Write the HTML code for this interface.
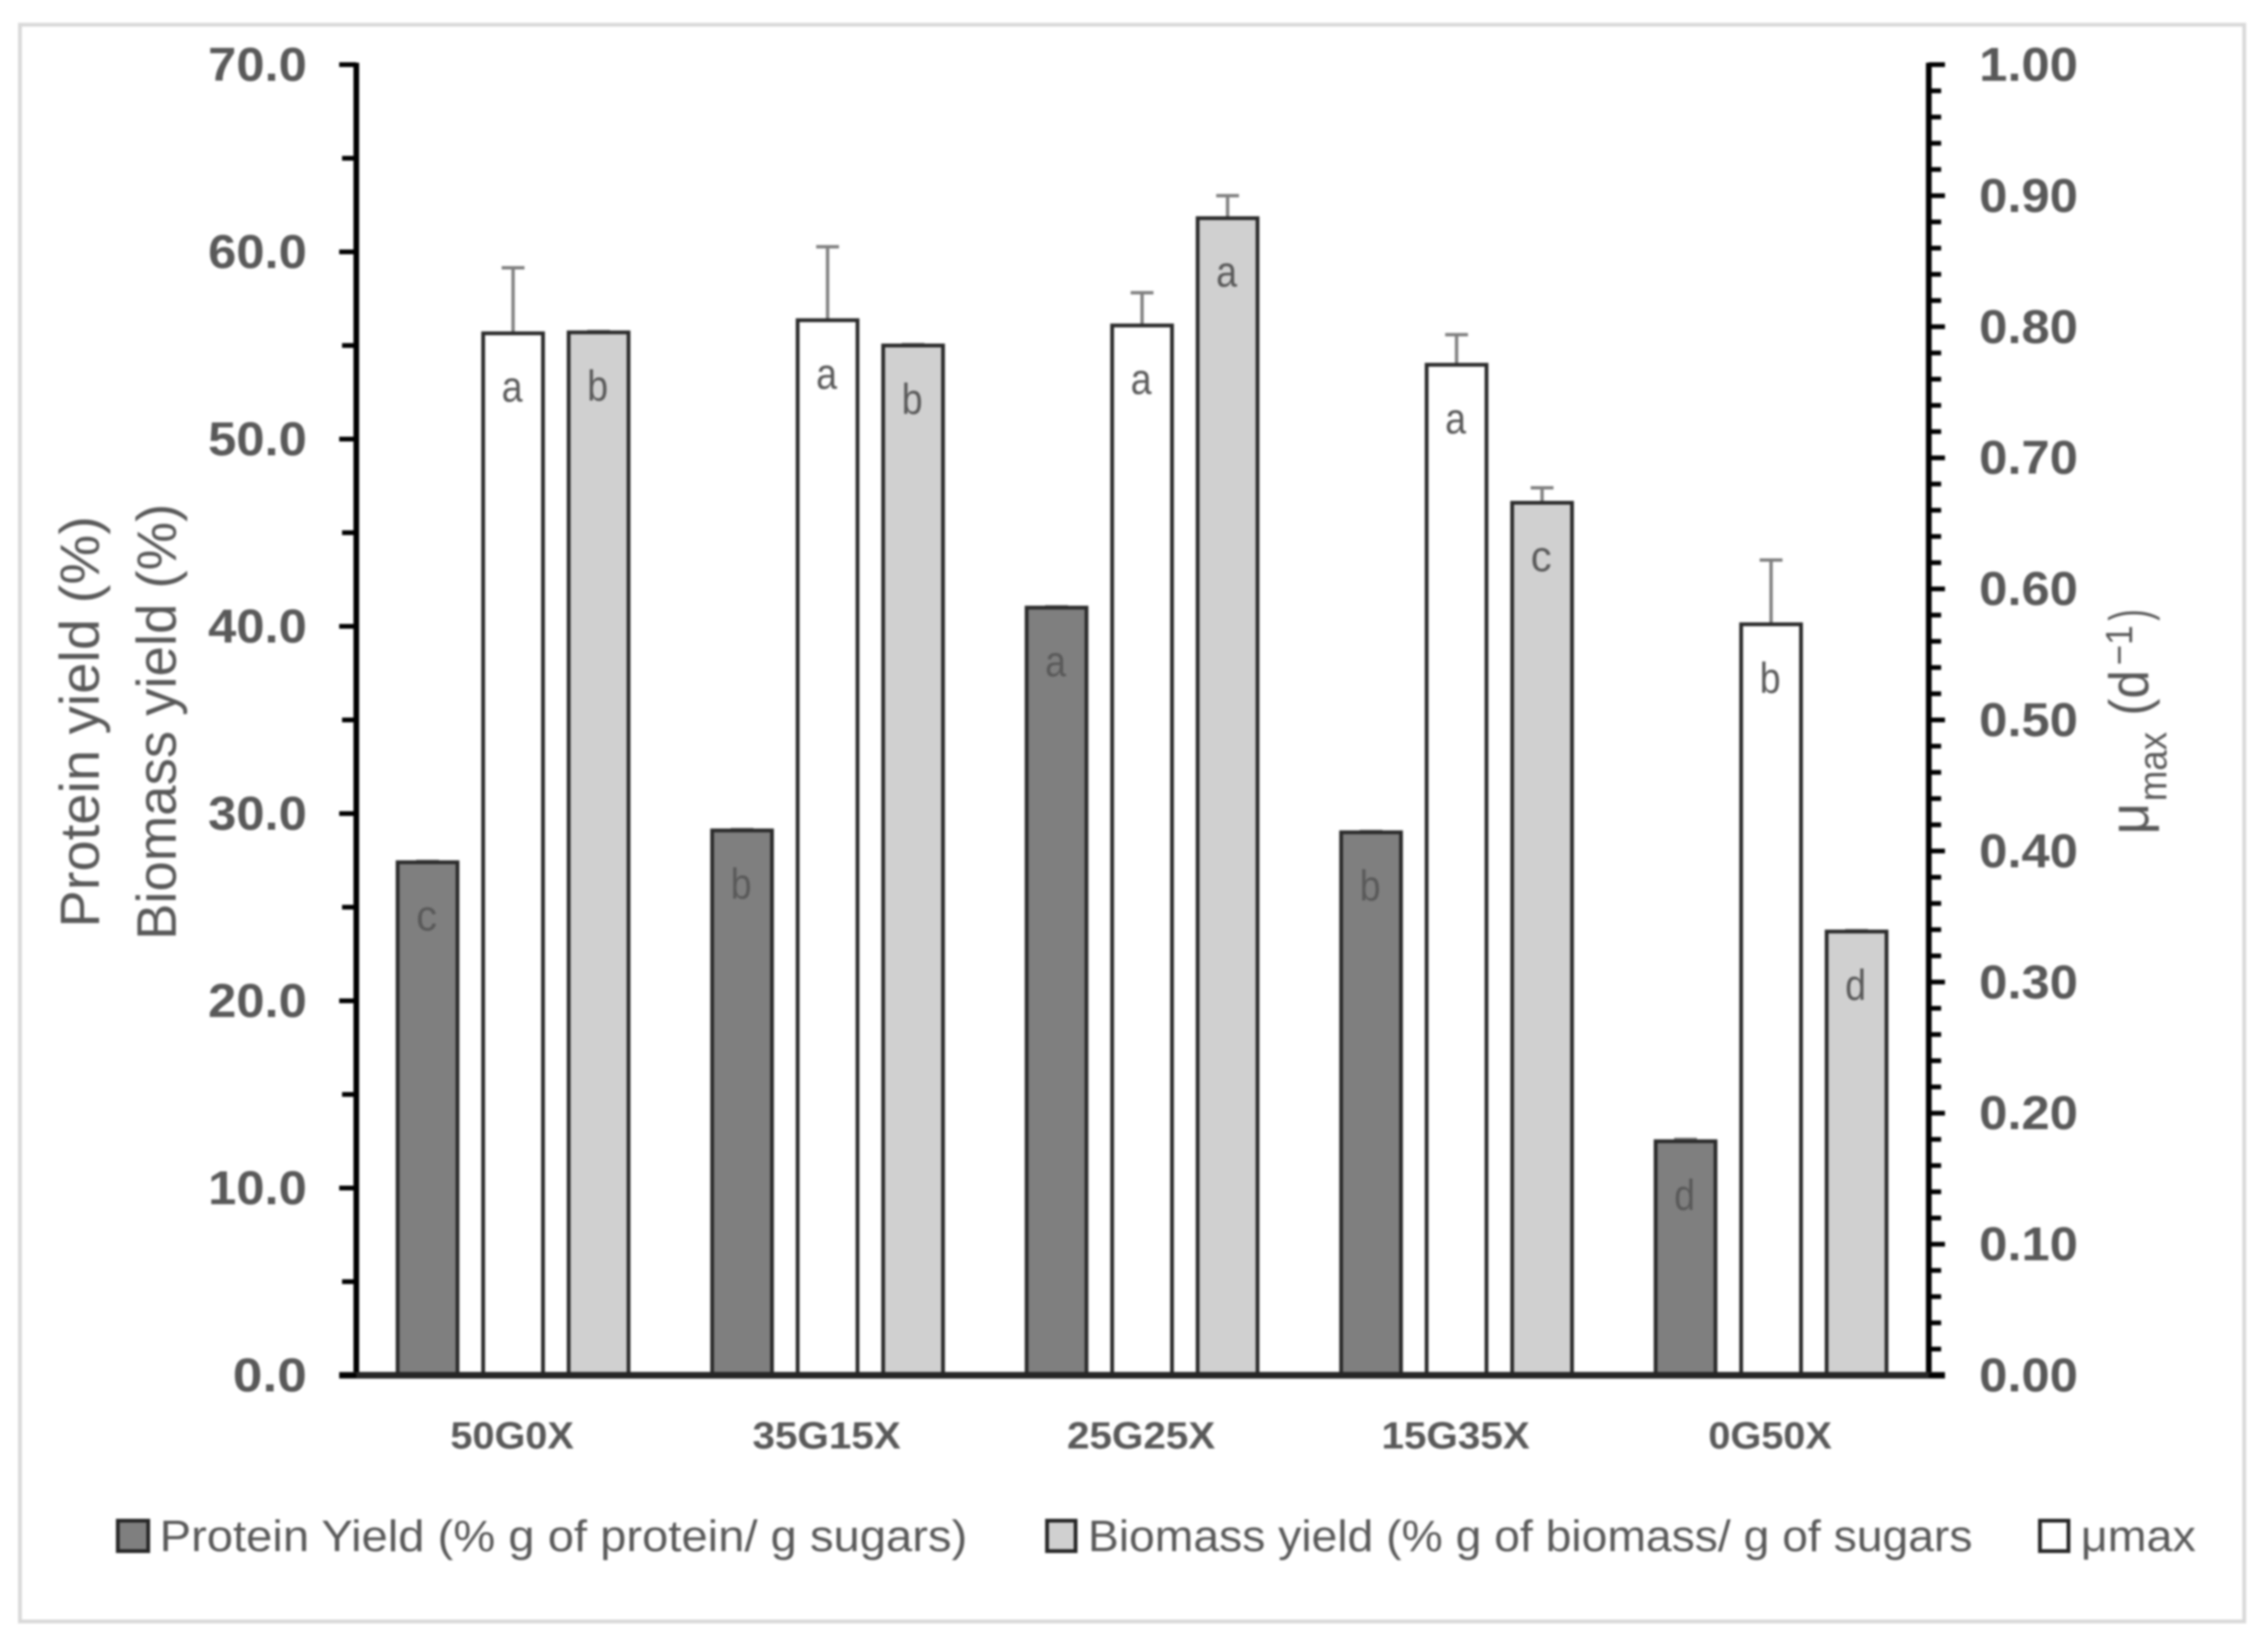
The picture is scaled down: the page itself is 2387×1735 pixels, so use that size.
<!DOCTYPE html>
<html lang="en">
<head>
<meta charset="utf-8">
<title>Protein yield, biomass yield and growth rate by sugar mix</title>
<style>
  html, body { margin: 0; padding: 0; background: #fff; }
  body { width: 2387px; height: 1735px; overflow: hidden; }
  svg { display: block; filter: blur(1px); }
  text { font-family: "Liberation Sans", "DejaVu Sans", sans-serif; fill: #595959; }
</style>
</head>
<body>
<svg id="chart" xmlns="http://www.w3.org/2000/svg" width="2387" height="1735" viewBox="0 0 2387 1735">
  <rect x="21" y="26" width="2341" height="1680" fill="#fff" stroke="#d9d9d9" stroke-width="4"/>

  <g id="bars"></g>
  <g id="axes"></g>

  <text transform="translate(104 976) rotate(-90)" font-size="58" textLength="433" lengthAdjust="spacingAndGlyphs">Protein yield (%)</text>
  <text transform="translate(185 989) rotate(-90)" font-size="58" textLength="459" lengthAdjust="spacingAndGlyphs">Biomass yield (%)</text>

  <text transform="translate(2261 878) rotate(-90)" font-size="58">μ</text>
  <text transform="translate(2280 843) rotate(-90)" font-size="42" textLength="73" lengthAdjust="spacingAndGlyphs">max</text>
  <text transform="translate(2261 753) rotate(-90)" font-size="58" textLength="48" lengthAdjust="spacingAndGlyphs">(d</text>
  <text transform="translate(2244 700) rotate(-90)" font-size="40" textLength="42" lengthAdjust="spacingAndGlyphs">−1</text>
  <text transform="translate(2261 653) rotate(-90)" font-size="58" textLength="12" lengthAdjust="spacingAndGlyphs">)</text>

  <g>
    <rect x="124" y="1600" width="32" height="32" fill="#7f7f7f" stroke="#262626" stroke-width="4"/>
    <text x="168" y="1632" font-size="46" textLength="850" lengthAdjust="spacingAndGlyphs">Protein Yield (% g of protein/ g sugars)</text>
    <rect x="1102" y="1600" width="30" height="32" fill="#d0d0d0" stroke="#262626" stroke-width="4"/>
    <text x="1145" y="1632" font-size="46" textLength="931" lengthAdjust="spacingAndGlyphs">Biomass yield (% g of biomass/ g of sugars</text>
    <rect x="2147" y="1600" width="30" height="32" fill="#fff" stroke="#262626" stroke-width="4"/>
    <text x="2190" y="1632" font-size="46" textLength="121" lengthAdjust="spacingAndGlyphs">μmax</text>
  </g>
</svg>

<script>
// ---- chart data ----
const categories = ['50G0X', '35G15X', '25G25X', '15G35X', '0G50X'];
const proteinYield = [27.4, 29.1, 41.0, 29.0, 12.5];
const proteinError = [0.05, 0.05, 0.05, 0.05, 0.1];
const proteinLetters = ['c', 'b', 'a', 'b', 'd'];
const muMax = [0.795, 0.805, 0.801, 0.771, 0.573];
const muError = [0.05, 0.056, 0.025, 0.023, 0.049];
const muLetters = ['a', 'a', 'a', 'a', 'b'];
const biomassYield = [55.7, 55.0, 61.8, 46.6, 23.7];
const biomassError = [0.05, 0.05, 1.2, 0.8, 0.05];
const biomassLetters = ['b', 'b', 'a', 'c', 'd'];
const leftTicks = ['0.0', '10.0', '20.0', '30.0', '40.0', '50.0', '60.0', '70.0'];
const rightTicks = ['0.00', '0.10', '0.20', '0.30', '0.40', '0.50', '0.60', '0.70', '0.80', '0.90', '1.00'];

// ---- layout and axis functions ----
const NS = 'http://www.w3.org/2000/svg';
const plotTop = 68, plotBottom = 1447, plotLeft = 375, plotRight = 2030;
const leftMax = 70, rightMax = 1;
const groupStart = 540, groupPitch = 331, barOffset = 90, barWidth = 63;
const yLeft = v => plotBottom - (v / leftMax) * (plotBottom - plotTop);
const yRight = v => plotBottom - (v / rightMax) * (plotBottom - plotTop);
const xGroup = i => groupStart + i * groupPitch;

const barsLayer = document.getElementById('bars');
const axesLayer = document.getElementById('axes');

function drawSeries(seriesName, values, errors, letters, scale, offset, fill) {
  values.forEach((v, i) => {
    const cx = xGroup(i) + offset;
    const top = scale(v);

    const errLine = document.createElementNS(NS, 'path');
    
    
    const errTop = scale(v + errors[i]);
    errLine.setAttribute('d', 'M' + cx + ' ' + top + 'V' + errTop + 'M' + (cx - 12) + ' ' + errTop + 'H' + (cx + 12));
    errLine.setAttribute('stroke', '#7f7f7f');
    errLine.setAttribute('stroke-width', '3.5');
    errLine.setAttribute('fill', 'none');
    barsLayer.appendChild(errLine);

    const bar = document.createElementNS(NS, 'rect');
    
    
    bar.setAttribute('x', cx - barWidth / 2);
    bar.setAttribute('y', top);
    bar.setAttribute('width', barWidth);
    bar.setAttribute('height', plotBottom - top);
    bar.setAttribute('fill', fill);
    bar.setAttribute('stroke', '#2b2b2b');
    bar.setAttribute('stroke-width', '4');
    barsLayer.appendChild(bar);

    const letter = document.createElementNS(NS, 'text');
    
    
    letter.setAttribute('x', cx - 1);
    letter.setAttribute('y', top + 72);
    letter.setAttribute('font-size', '45');
    letter.setAttribute('text-anchor', 'middle');
    letter.setAttribute('textLength', '22');
    letter.setAttribute('lengthAdjust', 'spacingAndGlyphs');
    letter.textContent = letters[i];
    barsLayer.appendChild(letter);
  });
}

drawSeries('protein', proteinYield, proteinError, proteinLetters, yLeft, -barOffset, '#7f7f7f');
drawSeries('mumax', muMax, muError, muLetters, yRight, 0, '#ffffff');
drawSeries('biomass', biomassYield, biomassError, biomassLetters, yLeft, barOffset, '#d0d0d0');

// axis lines
const leftAxis = document.createElementNS(NS, 'line');


leftAxis.setAttribute('x1', plotLeft);
leftAxis.setAttribute('x2', plotLeft);
leftAxis.setAttribute('y1', plotTop - 2);
leftAxis.setAttribute('y2', plotBottom);
leftAxis.setAttribute('stroke', '#000');
leftAxis.setAttribute('stroke-width', '6');
axesLayer.appendChild(leftAxis);

const rightAxis = document.createElementNS(NS, 'line');


rightAxis.setAttribute('x1', plotRight);
rightAxis.setAttribute('x2', plotRight);
rightAxis.setAttribute('y1', plotTop - 2);
rightAxis.setAttribute('y2', plotBottom);
rightAxis.setAttribute('stroke', '#000');
rightAxis.setAttribute('stroke-width', '6');
axesLayer.appendChild(rightAxis);

const xAxis = document.createElementNS(NS, 'line');


xAxis.setAttribute('x1', 357);
xAxis.setAttribute('x2', 2047);
xAxis.setAttribute('y1', plotBottom);
xAxis.setAttribute('y2', plotBottom);
xAxis.setAttribute('stroke', '#262626');
xAxis.setAttribute('stroke-width', '7');
axesLayer.appendChild(xAxis);

// left axis ticks and labels
leftTicks.forEach((label, i) => {
  const y = yLeft(parseFloat(label));

  const tick = document.createElementNS(NS, 'line');
  
  
  tick.setAttribute('x1', 357);
  tick.setAttribute('x2', plotLeft);
  tick.setAttribute('y1', y);
  tick.setAttribute('y2', y);
  tick.setAttribute('stroke', '#000');
  tick.setAttribute('stroke-width', '5');
  axesLayer.appendChild(tick);

  if (i < leftTicks.length - 1) {
    const minorY = yLeft(parseFloat(label) + 5);
    const minor = document.createElementNS(NS, 'line');
    
    
    minor.setAttribute('x1', 360);
    minor.setAttribute('x2', plotLeft);
    minor.setAttribute('y1', minorY);
    minor.setAttribute('y2', minorY);
    minor.setAttribute('stroke', '#000');
    minor.setAttribute('stroke-width', '5');
    axesLayer.appendChild(minor);
  }

  const text = document.createElementNS(NS, 'text');
  
  
  text.setAttribute('x', 323);
  text.setAttribute('y', y + 17);
  text.setAttribute('font-size', '50');
  text.setAttribute('font-weight', '700');
  text.setAttribute('text-anchor', 'end');
  text.setAttribute('textLength', label.length * 26);
  text.setAttribute('lengthAdjust', 'spacingAndGlyphs');
  text.textContent = label;
  axesLayer.appendChild(text);
});

// right axis ticks and labels
rightTicks.forEach((label, i) => {
  const value = parseFloat(label);
  const y = yRight(value);

  const tick = document.createElementNS(NS, 'line');
  
  
  tick.setAttribute('x1', plotRight);
  tick.setAttribute('x2', 2047);
  tick.setAttribute('y1', y);
  tick.setAttribute('y2', y);
  tick.setAttribute('stroke', '#000');
  tick.setAttribute('stroke-width', '5');
  axesLayer.appendChild(tick);

  if (i < rightTicks.length - 1) {
    [0.02, 0.04, 0.06, 0.08].forEach(step => {
      const minorY = yRight(value + step);
      const minor = document.createElementNS(NS, 'line');
      
      
      minor.setAttribute('x1', plotRight);
      minor.setAttribute('x2', 2043);
      minor.setAttribute('y1', minorY);
      minor.setAttribute('y2', minorY);
      minor.setAttribute('stroke', '#000');
      minor.setAttribute('stroke-width', '5');
      axesLayer.appendChild(minor);
    });
  }

  const text = document.createElementNS(NS, 'text');
  
  
  text.setAttribute('x', 2083);
  text.setAttribute('y', y + 17);
  text.setAttribute('font-size', '50');
  text.setAttribute('font-weight', '700');
  text.setAttribute('textLength', '104');
  text.setAttribute('lengthAdjust', 'spacingAndGlyphs');
  text.textContent = label;
  axesLayer.appendChild(text);
});

// category labels
categories.forEach((name, i) => {
  const text = document.createElementNS(NS, 'text');
  
  
  text.setAttribute('x', xGroup(i) - 1);
  text.setAttribute('y', 1524);
  text.setAttribute('font-size', '40');
  text.setAttribute('font-weight', '700');
  text.setAttribute('text-anchor', 'middle');
  text.setAttribute('textLength', name.length * 26);
  text.setAttribute('lengthAdjust', 'spacingAndGlyphs');
  text.textContent = name;
  axesLayer.appendChild(text);
});
</script>
</body>
</html>
